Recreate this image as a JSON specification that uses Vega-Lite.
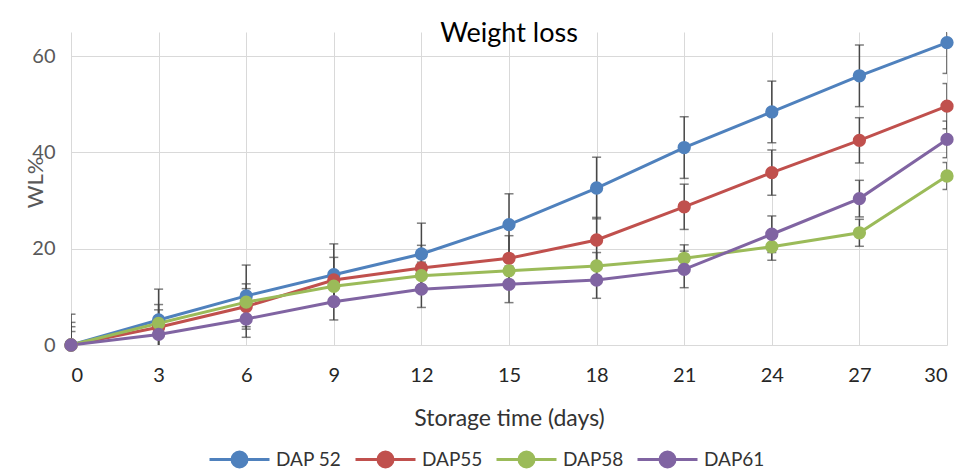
{
  "$schema": "https://vega.github.io/schema/vega-lite/v6.json",
  "width": 876,
  "height": 313,
  "autosize": {"type": "none"},
  "padding": {"left": 71, "top": 32, "right": 24, "bottom": 127},
  "background": "white",
  "config": {"view": {"stroke": null}, "font": "Lato"},
  "title": {"text": "Weight loss", "fontSize": 27, "fontWeight": "normal", "color": "#000000", "baseline": "alphabetic", "offset": -12, "dy": 25, "anchor": "middle", "font": "Lato"},
  "data": {"values": [
    {"day": 0, "series": "DAP 52", "wl": 0, "err": 6.4},
    {"day": 3, "series": "DAP 52", "wl": 5.2, "err": 6.4},
    {"day": 6, "series": "DAP 52", "wl": 10.2, "err": 6.4},
    {"day": 9, "series": "DAP 52", "wl": 14.6, "err": 6.4},
    {"day": 12, "series": "DAP 52", "wl": 18.9, "err": 6.4},
    {"day": 15, "series": "DAP 52", "wl": 25.0, "err": 6.4},
    {"day": 18, "series": "DAP 52", "wl": 32.6, "err": 6.4},
    {"day": 21, "series": "DAP 52", "wl": 41.0, "err": 6.4},
    {"day": 24, "series": "DAP 52", "wl": 48.4, "err": 6.4},
    {"day": 27, "series": "DAP 52", "wl": 55.9, "err": 6.4},
    {"day": 30, "series": "DAP 52", "wl": 62.8, "err": 6.4},
    {"day": 0, "series": "DAP55", "wl": 0, "err": 4.7},
    {"day": 3, "series": "DAP55", "wl": 3.7, "err": 4.7},
    {"day": 6, "series": "DAP55", "wl": 8.0, "err": 4.7},
    {"day": 9, "series": "DAP55", "wl": 13.5, "err": 4.7},
    {"day": 12, "series": "DAP55", "wl": 16.0, "err": 4.7},
    {"day": 15, "series": "DAP55", "wl": 18.0, "err": 4.7},
    {"day": 18, "series": "DAP55", "wl": 21.8, "err": 4.7},
    {"day": 21, "series": "DAP55", "wl": 28.7, "err": 4.7},
    {"day": 24, "series": "DAP55", "wl": 35.8, "err": 4.7},
    {"day": 27, "series": "DAP55", "wl": 42.5, "err": 4.7},
    {"day": 30, "series": "DAP55", "wl": 49.6, "err": 4.7},
    {"day": 0, "series": "DAP58", "wl": 0, "err": 2.8},
    {"day": 3, "series": "DAP58", "wl": 4.5, "err": 2.8},
    {"day": 6, "series": "DAP58", "wl": 8.9, "err": 2.8},
    {"day": 9, "series": "DAP58", "wl": 12.2, "err": 2.8},
    {"day": 12, "series": "DAP58", "wl": 14.4, "err": 2.8},
    {"day": 15, "series": "DAP58", "wl": 15.4, "err": 2.8},
    {"day": 18, "series": "DAP58", "wl": 16.4, "err": 2.8},
    {"day": 21, "series": "DAP58", "wl": 18.0, "err": 2.8},
    {"day": 24, "series": "DAP58", "wl": 20.4, "err": 2.8},
    {"day": 27, "series": "DAP58", "wl": 23.3, "err": 2.8},
    {"day": 30, "series": "DAP58", "wl": 35.1, "err": 2.8},
    {"day": 0, "series": "DAP61", "wl": 0, "err": 3.8},
    {"day": 3, "series": "DAP61", "wl": 2.2, "err": 3.8},
    {"day": 6, "series": "DAP61", "wl": 5.4, "err": 3.8},
    {"day": 9, "series": "DAP61", "wl": 9.0, "err": 3.8},
    {"day": 12, "series": "DAP61", "wl": 11.6, "err": 3.8},
    {"day": 15, "series": "DAP61", "wl": 12.6, "err": 3.8},
    {"day": 18, "series": "DAP61", "wl": 13.5, "err": 3.8},
    {"day": 21, "series": "DAP61", "wl": 15.7, "err": 3.8},
    {"day": 24, "series": "DAP61", "wl": 23.0, "err": 3.8},
    {"day": 27, "series": "DAP61", "wl": 30.4, "err": 3.8},
    {"day": 30, "series": "DAP61", "wl": 42.7, "err": 3.8}
  ]},
  "encoding": {
    "x": {
      "field": "day", "type": "quantitative",
      "scale": {"domain": [0, 30], "nice": false, "zero": false},
      "axis": {
        "title": "Storage time (days)",
        "values": [0, 3, 6, 9, 12, 15, 18, 21, 24, 27, 30],
        "grid": true, "gridColor": "#d9d9d9", "gridWidth": 1,
        "domain": false, "ticks": false, "tickSize": 0,
        "labelFontSize": 20, "labelColor": "#262626", "labelPadding": 20, "labelFont": "Lato",
        "titleFontSize": 23, "titleColor": "#333333", "titleFontWeight": "normal", "titleFont": "Lato",
        "titleY": 73, "titleBaseline": "middle", "titleX": 438, "titleAlign": "center"
      }
    },
    "y": {
      "field": "wl", "type": "quantitative",
      "scale": {"domain": [0, 65], "nice": false},
      "axis": {
        "title": "WL%",
        "values": [0, 20, 40, 60],
        "grid": true, "gridColor": "#d9d9d9", "gridWidth": 1,
        "domain": false, "ticks": false, "tickSize": 0,
        "labelFontSize": 20, "labelColor": "#595959", "labelPadding": 16, "labelFont": "Lato",
        "titleFontSize": 22, "titleColor": "#595959", "titleFontWeight": "normal", "titleFont": "Lato",
        "titleX": -36, "titleY": 150, "titleAngle": -90, "titleAlign": "center", "titleBaseline": "middle"
      }
    }
  },
  "layer": [
    {
      "mark": {"type": "errorbar", "clip": true, "color": "#474747", "thickness": 1.5, "ticks": {"size": 9, "strokeWidth": 1.5, "color": "#474747"}, "rule": {"strokeWidth": 1.5, "color": "#474747"}},
      "encoding": {
        "yError": {"field": "err"},
        "detail": {"field": "series", "type": "nominal"}
      }
    },
    {
      "mark": {"type": "line", "strokeWidth": 3},
      "encoding": {
        "color": {
          "field": "series", "type": "nominal",
          "scale": {"domain": ["DAP 52", "DAP55", "DAP58", "DAP61"], "range": ["#4f81bd", "#c0504d", "#9bbb59", "#8064a2"]},
          "legend": {
            "orient": "none", "legendX": 159, "legendY": 418, "direction": "horizontal", "title": null,
            "symbolType": "M-4,0H4M1,0A1,1 0 1 1 -1,0A1,1 0 1 1 1,0Z",
            "symbolSize": 225, "symbolStrokeWidth": 3,
            "labelFontSize": 19, "labelColor": "#333333", "labelFont": "Lato",
            "labelOffset": 27, "columnPadding": 7, "padding": 0,
            "encode": {"symbols": {"update": {"stroke": {"scale": "color", "field": "value"}, "fill": {"scale": "color", "field": "value"}, "opacity": {"value": 1}}}}
          }
        }
      }
    },
    {
      "mark": {"type": "point", "filled": true, "size": 177, "opacity": 1},
      "encoding": {
        "color": {"field": "series", "type": "nominal", "legend": null}
      }
    }
  ]
}
